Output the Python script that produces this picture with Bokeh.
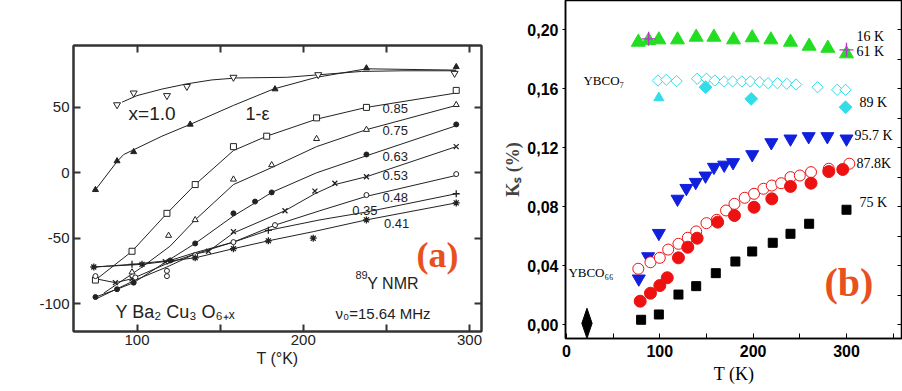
import numpy as np
from bokeh.plotting import figure
from bokeh.models import Range1d, LinearAxis, FixedTicker, Label, CustomJSTickFormatter
from bokeh.layouts import row, column
from bokeh.embed import file_html
from bokeh.resources import INLINE

# ---------------- panel (a) data: -dK (ppm) vs T (K) ----------------
x10_T = [88, 98, 118, 130, 158, 209, 291]
x10_dK = [52, 61, 59, 66, 73, 75, 76]
eps_T = [75, 88, 98, 132, 183, 238, 292]
eps_dK = [-13, 9, 16, 37, 64, 80, 81]
s85_T = [75, 97, 118, 135, 158, 178, 208, 238, 292]
s85_dK = [-82, -60, -31, -9, 20, 28, 42, 50, 63]
s75_T = [97, 119, 135, 158, 181, 208, 238, 292]
s75_dK = [-76, -48, -36, -5, 6, 26, 33, 52]
s63_T = [75, 88, 98, 120, 135, 158, 171, 181, 238, 292]
s63_dK = [-95, -89, -84, -67, -54, -31, -22, -15, 14, 37]
s53_T = [87, 97, 117, 143, 158, 189, 207, 219, 238, 292]
s53_dK = [-84, -81, -68, -60, -45, -29, -14, -8, -3, 20]
s48_T = [75, 99, 118, 118, 135, 158, 183, 238, 292]
s48_dK = [-79, -80, -75, -79, -63, -53, -40, -17, -1]
s35_T = [97, 179, 292]
s35_dK = [-70, -44, -16]
s41_T = [74, 103, 135, 158, 179, 206, 238, 292]
s41_dK = [-72, -70, -65, -58, -52, -50, -36, -23]

# hand-drawn guide curves of panel (a)
c10_T = [91, 100, 115, 130, 145, 160, 190, 210, 235, 260, 292]
c10_dK = [54, 59, 64, 68, 71, 72.5, 73, 75, 77.5, 78, 78]
ceps_T = [75, 88, 92, 98, 115, 132, 158, 182, 208, 238, 292]
ceps_dK = [-13, 8.6, 14, 17.6, 28, 37, 51.5, 64, 73, 79.5, 78.5]
c85_T = [75, 97, 118, 135, 158, 178, 208, 238, 292]
c85_dK = [-82, -60, -31, -9, 17, 28, 41, 50, 61]
c75_T = [80, 102, 120, 135, 158, 181, 208, 238, 292]
c75_dK = [-92, -73, -56, -36, -9, 4, 20, 33, 51.5]
c63_T = [75, 88, 98, 120, 135, 158, 171, 181, 208, 238, 292]
c63_dK = [-95, -89, -84, -66, -54, -33, -23, -15, 0, 13, 36]
c53_T = [75, 87, 97, 117, 135, 143, 158, 189, 207, 219, 238, 292]
c53_dK = [-81, -84, -81, -70, -62, -60, -46, -29, -16, -9, -3, 20]
c48_T = [76, 99, 118, 135, 158, 183, 210, 238, 292]
c48_dK = [-96, -82, -72, -62, -53, -40, -29, -18, -2]
c35_T = [75, 97, 120, 135, 158, 179, 210, 238, 292]
c35_dK = [-72, -70, -67, -61, -53, -44, -36, -30, -16]
c41_T = [74, 103, 135, 158, 179, 206, 238, 292]
c41_dK = [-72, -70, -65, -58, -52, -45, -36, -23]

a_xticks = [100, 150, 200, 250, 300]
a_xlabels = {100: "100", 150: "", 200: "200", 250: "", 300: "300"}
a_yticks = [-100, -50, 0, 50]
a_ylabels = {-100: "-100", -50: "-50", 0: "0", 50: "50"}

# ---------------- panel (b) data: Ks (%) vs T (K) ----------------
green_T = [77, 88, 99, 119, 139, 158, 179, 199, 219, 240, 260, 280, 300]
green_K = [0.1916, 0.1927, 0.1932, 0.1932, 0.195, 0.195, 0.1932, 0.1946, 0.1932, 0.1916, 0.1889, 0.1875, 0.1837]
mag_T = [88, 300]
mag_K = [0.1939, 0.1864]
cyan_open_T = [98, 107, 118, 140, 150, 159, 169, 178, 188, 197, 207, 216, 226, 236, 246, 269, 290, 299]
cyan_open_K = [0.1656, 0.1661, 0.1652, 0.1668, 0.1668, 0.1656, 0.165, 0.165, 0.165, 0.165, 0.1645,
               0.1638, 0.1638, 0.1634, 0.1629, 0.1611, 0.1593, 0.1593]
cyan_fill_T = [149, 198, 299]
cyan_fill_K = [0.1611, 0.1532, 0.1475]
cyan_tri_T = [99]
cyan_tri_K = [0.1539]
blue_T = [77.5, 87.5, 99, 119, 128.5, 138.5, 149, 158, 169, 178.5, 199, 219.5, 240, 259.5, 279.5, 300]
blue_K = [0.0312, 0.0463, 0.0621, 0.0853, 0.0926, 0.0967, 0.101, 0.1069, 0.1084, 0.1101, 0.1155,
          0.1236, 0.1261, 0.1277, 0.1277, 0.1261]
redo_T = [77, 90, 100, 109, 120, 130, 139, 150, 161, 171, 180, 191, 201, 211, 220, 230, 240, 250, 262, 281, 303]
redo_K = [0.038, 0.0424, 0.0454, 0.051, 0.0549, 0.059, 0.0633, 0.0689, 0.0712, 0.0775, 0.082, 0.0861,
          0.0888, 0.0922, 0.0944, 0.096, 0.1001, 0.1012, 0.1035, 0.1058, 0.1092]
redf_T = [79, 90, 100, 108, 120, 130, 140, 162, 180, 201, 220, 240, 262, 281, 296]
redf_K = [0.016, 0.0214, 0.0266, 0.0319, 0.0454, 0.0526, 0.0587, 0.0696, 0.0741, 0.0797, 0.0854,
          0.0938, 0.096, 0.1039, 0.1053]
black_T = [80, 99, 120, 139, 160, 181, 199, 221, 240, 260, 300]
black_K = [0.0034, 0.007, 0.0205, 0.0262, 0.035, 0.0429, 0.0497, 0.0556, 0.0617, 0.0685, 0.078]
dia_T = [22]
dia_K = [0.001]

b_xticks = [0, 50, 100, 150, 200, 250, 300, 350]
b_yticks = [0.0, 0.04, 0.08, 0.12, 0.16, 0.20]
b_rticks = [0.0, 0.02, 0.04, 0.06, 0.08, 0.10, 0.12, 0.14, 0.16, 0.18, 0.20]

INK = "#222222"
SANS = "Liberation Sans"
SERIF = "Liberation Serif"
ORANGE = "#e8501e"

# =============== figure (a) ===============
pa = figure(width=500, height=391, x_range=Range1d(61.8, 307.2), y_range=Range1d(-121.33, 97.32),
            output_backend="svg", toolbar_location=None,
            min_border_left=73, min_border_right=19, min_border_top=45, min_border_bottom=60)
pa.grid.visible = False
pa.outline_line_color = "#333333"
pa.outline_line_width = 2

for ax in (pa.xaxis[0], pa.yaxis[0]):
    ax.axis_line_width = 2
    ax.axis_line_color = "#333333"
    ax.major_tick_in = 7
    ax.major_tick_out = 0
    ax.minor_tick_in = 0
    ax.minor_tick_out = 0
    ax.major_tick_line_width = 2
    ax.major_tick_line_color = "#333333"
    ax.major_label_text_font = SANS
    ax.major_label_text_font_size = "15px"
    ax.major_label_text_color = INK
pa.xaxis.ticker = FixedTicker(ticks=a_xticks)
pa.xaxis.major_label_overrides = a_xlabels
pa.xaxis.major_label_standoff = 3
pa.xaxis.axis_label = "T (°K)"
pa.xaxis.axis_label_text_font = SANS
pa.xaxis.axis_label_text_font_style = "normal"
pa.xaxis.axis_label_text_font_size = "16px"
pa.xaxis.axis_label_text_color = INK
pa.xaxis.axis_label_standoff = 2
pa.yaxis.ticker = FixedTicker(ticks=a_yticks)
pa.yaxis.major_label_overrides = a_ylabels
pa.yaxis.major_label_standoff = 4

top_a = LinearAxis(ticker=FixedTicker(ticks=a_xticks), formatter=CustomJSTickFormatter(code="return ''"),
                   major_tick_in=7, major_tick_out=0,
                   minor_tick_in=0, minor_tick_out=0, axis_line_width=2, axis_line_color="#333333",
                   major_tick_line_width=2, major_tick_line_color="#333333", major_label_standoff=0)
pa.add_layout(top_a, "above")
right_a = LinearAxis(ticker=FixedTicker(ticks=a_yticks), formatter=CustomJSTickFormatter(code="return ''"),
                     major_tick_in=7, major_tick_out=0, minor_tick_in=0, minor_tick_out=0,
                     axis_line_width=2, axis_line_color="#333333", major_tick_line_width=2,
                     major_tick_line_color="#333333", major_label_standoff=0)
pa.add_layout(right_a, "right")

for cx, cy in [(c10_T, c10_dK), (ceps_T, ceps_dK), (c85_T, c85_dK), (c75_T, c75_dK), (c63_T, c63_dK),
               (c53_T, c53_dK), (c48_T, c48_dK), (c35_T, c35_dK), (c41_T, c41_dK)]:
    pa.line(cx, cy, line_color=INK, line_width=1)

pa.scatter(x10_T, x10_dK, marker="inverted_triangle", size=7, fill_color="white", line_color=INK, line_width=1)
pa.scatter(eps_T, eps_dK, marker="triangle", size=6, fill_color=INK, line_color=INK)
pa.scatter(s85_T, s85_dK, marker="square", size=6, fill_color="white", line_color=INK, line_width=1)
pa.scatter(s75_T, s75_dK, marker="triangle", size=6, fill_color="white", line_color=INK, line_width=1)
pa.scatter(s63_T, s63_dK, marker="circle", size=5, fill_color=INK, line_color=INK)
pa.scatter(s53_T, s53_dK, marker="x", size=7, line_color=INK, line_width=1.3)
pa.scatter(s48_T, s48_dK, marker="circle", size=5, fill_color="white", line_color=INK, line_width=1)
pa.scatter(s35_T, s35_dK, marker="cross", size=7, line_color=INK, line_width=1.3)
pa.scatter(s41_T, s41_dK, marker="asterisk", size=7, line_color=INK, line_width=1.3)

def lab(p, text, x, y, size, font=SANS, color=INK, align="left", style="normal", baseline="middle"):
    p.add_layout(Label(x=x, y=y, text=text, text_font=font, text_font_size=size, text_color=color,
                       text_align=align, text_baseline=baseline, text_font_style=style))

lab(pa, "-ΔK", 45, 97.3, "16px", align="center")
lab(pa, "(ppm)", 46.8, 83.6, "16px", align="center")
lab(pa, "x=1.0", 94.9, 45.3, "19px")
lab(pa, "1-ε", 165.3, 45.3, "18px")
lab(pa, "0.85", 247.7, 49.2, "13px")
lab(pa, "0.75", 247.7, 32.3, "13px")
lab(pa, "0.63", 247.7, 12.8, "13px")
lab(pa, "0.53", 247.7, -1.7, "13px")
lab(pa, "0.48", 247.7, -18.7, "13px")
lab(pa, "0.35", 229.4, -28.8, "13px")
lab(pa, "0.41", 248.5, -39.0, "13px")
lab(pa, "89", 231.4, -78.5, "11px")
lab(pa, "Y NMR", 238.5, -84.5, "16px")
lab(pa, "Y Ba₂ Cu₃ O₆₊ₓ", 87.1, -106.6, "18px")
lab(pa, "ν₀=15.64 MHz", 219.4, -107.6, "15px")
lab(pa, "(a)", 268.1, -63.2, "36px", font=SERIF, color=ORANGE, style="bold")

# =============== figure (b) ===============
pb = figure(width=402, height=391, x_range=Range1d(-1, 360), y_range=Range1d(-0.00929, 0.21985),
            output_backend="svg", toolbar_location=None,
            min_border_left=64, min_border_right=0, min_border_top=0, min_border_bottom=53)
pb.grid.visible = False
pb.outline_line_color = "black"
pb.outline_line_width = 1.5

for ax in (pb.xaxis[0], pb.yaxis[0]):
    ax.axis_line_width = 1.5
    ax.axis_line_color = "black"
    ax.minor_tick_in = 0
    ax.minor_tick_out = 0
    ax.major_label_text_font = SANS
    ax.major_label_text_font_style = "bold"
    ax.major_label_text_font_size = "16px"
    ax.major_label_text_color = "black"
pb.xaxis.ticker = FixedTicker(ticks=b_xticks)
pb.xaxis.major_label_overrides = {0: "0", 50: "", 100: "100", 150: "", 200: "200", 250: "", 300: "300", 350: ""}
pb.xaxis.major_tick_in = 5
pb.xaxis.major_tick_out = 0
pb.xaxis.major_label_standoff = 6
pb.xaxis.axis_label = "T (K)"
pb.xaxis.axis_label_text_font = SERIF
pb.xaxis.axis_label_text_font_style = "normal"
pb.xaxis.axis_label_text_font_size = "18px"
pb.xaxis.axis_label_text_color = "black"
pb.xaxis.axis_label_standoff = 4
pb.yaxis.ticker = FixedTicker(ticks=b_yticks)
pb.yaxis.formatter = CustomJSTickFormatter(code="return tick.toFixed(2).replace('.', ',')")
pb.yaxis.major_tick_in = 0
pb.yaxis.major_tick_out = 3
pb.yaxis.major_label_standoff = 4
pb.yaxis.axis_label = "Kₛ (%)"
pb.yaxis.axis_label_text_font = SERIF
pb.yaxis.axis_label_text_font_style = "bold"
pb.yaxis.axis_label_text_font_size = "18px"
pb.yaxis.axis_label_standoff = 1

right_b = LinearAxis(ticker=FixedTicker(ticks=b_rticks), formatter=CustomJSTickFormatter(code="return ''"),
                     major_tick_in=5, major_tick_out=0, minor_tick_in=0, minor_tick_out=0,
                     axis_line_width=1.5, axis_line_color="black", major_label_standoff=0)
pb.add_layout(right_b, "right")

pb.scatter(green_T, green_K, marker="triangle", size=14, fill_color="#22dd22", line_color="#22dd22")
pb.scatter(mag_T, mag_K, marker="cross", size=14, line_color="#bb33cc", line_width=1.3)
pb.scatter(cyan_open_T, cyan_open_K, marker="square", angle=np.pi / 4, size=8, fill_color="white",
           line_color="#33dde8", line_width=1)
pb.scatter(cyan_fill_T, cyan_fill_K, marker="square", angle=np.pi / 4, size=9, fill_color="#33dde8",
           line_color="#33dde8")
pb.scatter(cyan_tri_T, cyan_tri_K, marker="triangle", size=10, fill_color="#33dde8", line_color="#33dde8")
pb.scatter(blue_T, blue_K, marker="inverted_triangle", size=13, fill_color="#1020dd", line_color="#1020dd")
pb.scatter(redo_T, redo_K, marker="circle", size=11, fill_color="white", line_color="#ee1111", line_width=1)
pb.scatter(redf_T, redf_K, marker="circle", size=12, fill_color="#ee1111", line_color="#ee1111")
pb.scatter(black_T, black_K, marker="square", size=9, fill_color="black", line_color="black")

hw, hh = 5.5, 0.0102
for t, k in zip(dia_T, dia_K):
    pb.patch([t, t + hw, t, t - hw], [k + hh, k, k - hh, k], fill_color="black", line_color="black")

lab(pb, "16 K", 310.7, 0.1955, "14px", font=SERIF, color="black")
lab(pb, "61 K", 310.7, 0.1853, "14px", font=SERIF, color="black")
lab(pb, "YBCO₇", 18.2, 0.1656, "13px", font=SERIF, color="black")
lab(pb, "89 K", 313.9, 0.1507, "14px", font=SERIF, color="black")
lab(pb, "95.7 K", 308.5, 0.1283, "14px", font=SERIF, color="black")
lab(pb, "87.8K", 310.7, 0.1094, "14px", font=SERIF, color="black")
lab(pb, "75 K", 313.9, 0.0829, "14px", font=SERIF, color="black")
lab(pb, "YBCO₆₆", 2.1, 0.0355, "13px", font=SERIF, color="black")
lab(pb, "(b)", 276.4, 0.0287, "40px", font=SERIF, color=ORANGE, style="bold")

layout = row(column(pa), column(pb))
open("out.html", "w").write(file_html(layout, INLINE))
